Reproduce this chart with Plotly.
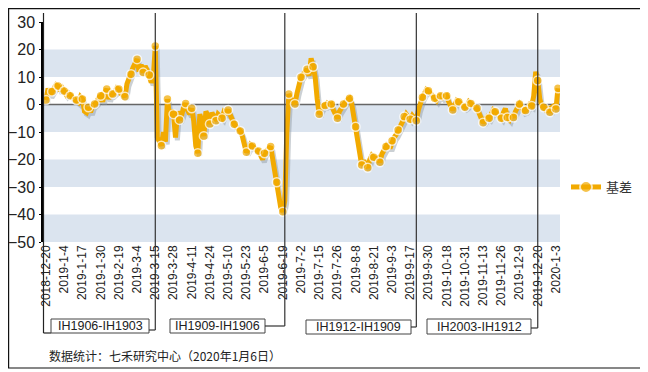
import plotly.graph_objects as go

# ---------------- data ----------------
tick_labels = ["2018-12-20", "2019-1-4", "2019-1-17", "2019-1-30", "2019-2-19", "2019-3-4",
               "2019-3-15", "2019-3-28", "2019-4-11", "2019-4-24", "2019-5-10", "2019-5-23",
               "2019-6-5", "2019-6-19", "2019-7-2", "2019-7-15", "2019-7-26", "2019-8-8",
               "2019-8-21", "2019-9-3", "2019-9-17", "2019-9-30", "2019-10-18", "2019-10-31",
               "2019-11-13", "2019-11-26", "2019-12-9", "2019-12-20", "2020-1-3"]

basis = [
    1.6, 5.8, 3.5, 4.7, 5.5, 7.2, 6.7, 5.0, 6.0, 4.9, 3.5, 4.2,
    3.2, 2.5, 2.0, 1.6, 0.8, 2.8, 2.0, -2.5, -3.0, -1.0, -2.8, -0.5,
    0.2, 0.8, 2.5, 3.2, 1.0, 4.5, 5.6, 2.0, 4.5, 3.8, 4.5, 6.0,
    5.6, 4.0, 3.5, 2.8, 7.5, 10.0, 11.0, 13.5, 15.0, 16.5, 12.0, 14.5,
    11.6, 14.0, 12.5, 10.7, 8.0, 9.5, 21.3, -12.0, -14.0, -15.0, -10.0, -13.5,
    2.0, -4.0, -2.0, -3.5, -12.0, -2.5, -5.6, -4.0, -1.0, 0.4, -2.0, -3.5,
    -1.4, -6.0, -15.0, -17.7, -3.5, -6.0, -11.5, -2.5, -4.0, -7.1, -3.0, -4.5,
    -5.9, -3.5, -4.2, -5.0, -2.5, -3.0, -2.0, -4.0, -6.0, -7.2, -8.0, -9.0,
    -9.6, -11.5, -14.0, -17.4, -16.0, -14.5, -15.1, -16.0, -16.5, -16.9, -18.5, -20.0,
    -17.7, -16.5, -16.0, -15.3, -20.0, -25.0, -28.3, -33.0, -37.5, -39.0, -35.0, -10.0,
    3.8, 2.0, 1.0, 0.2, 4.0, 8.0, 9.9, 11.0, 12.0, 12.8, 10.5, 16.8,
    13.7, 10.0, 2.0, -3.5, -1.5, -0.5, -0.4, 0.5, 0.0, 0.2, -2.0, -3.5,
    -5.0, -2.5, -1.0, 0.2, 1.0, 1.8, 2.3, 0.5, -4.0, -8.1, -14.0, -19.0,
    -22.0, -20.5, -21.5, -23.0, -20.0, -18.5, -19.2, -20.0, -19.5, -21.0, -18.0, -16.5,
    -15.3, -14.0, -16.0, -13.2, -12.0, -11.0, -9.3, -7.5, -6.0, -4.4, -3.5, -4.5,
    -5.4, -4.0, -5.0, -5.9, -2.0, 1.0, 2.6, 4.0, 5.5, 5.0, 4.0, 3.0,
    2.3, 1.5, 3.0, 3.2, 2.5, 2.8, 3.2, 1.0, -0.5, -2.0, 0.0, 1.5,
    1.0, 0.5, -0.5, -1.0, -0.5, 1.0, 0.4, -0.5, -1.0, -1.4, -3.0, -5.5,
    -6.6, -5.5, -4.5, -5.0, -3.5, -2.0, -2.6, -3.5, -4.0, -5.0, -3.0, -1.5,
    -4.7, -5.5, -3.5, -4.7, -2.5, -1.0, 0.2, -1.0, -2.5, -2.2, -1.0, 0.0,
    -0.5, 3.0, 11.9, 8.7, 2.0, -0.5, -1.0, -2.0, -1.5, -2.8, -1.0, -0.5,
    -1.6, 5.9,
]

contract_labels = ["IH1906-IH1903", "IH1909-IH1906", "IH1912-IH1909", "IH2003-IH1912"]
roll_index = [0, 54, 118, 183, 243]   # contract roll points (divider lines)

series_name = "基差"
source_text = "数据统计：七禾研究中心（2020年1月6日）"

# ---------------- layout helpers ----------------
OFF = 8                      # page body margin
W, H = 648 - OFF, 372 - OFF
L, R, T, B = 44 - OFF, 560 - OFF, 22 - OFF, 242 - OFF   # plot area in figure pixels
XMIN, XMAX = -1, 254


def px(xp):
    """page x pixel (reference coords) -> paper"""
    return (xp - OFF - L) / (R - L)


def py(yp):
    """page y pixel (reference coords) -> paper"""
    return (B - (yp - OFF)) / (B - T)


def ix(i):
    return (i - XMIN) / (XMAX - XMIN)


ORANGE = "#F2AA00"
BAND = "#DBE4EF"

n = len(basis)
xs = list(range(n))
marker_sizes = [9 if (i % 3 == 0 or i == n - 1) else 0 for i in xs]
marker_lw = [1.5 if s else 0 for s in marker_sizes]

fig = go.Figure()

# shadow
fig.add_trace(go.Scatter(
    x=[x + 0.9 for x in xs], y=[v - 1.0 for v in basis], mode="lines",
    line=dict(color="rgba(140,150,160,0.45)", width=5), hoverinfo="skip", showlegend=False))

# main series
fig.add_trace(go.Scatter(
    x=xs, y=basis, mode="lines+markers", name=series_name,
    line=dict(color=ORANGE, width=5),
    marker=dict(color=ORANGE, size=marker_sizes, line=dict(color="white", width=marker_lw)),
))

shapes = []
# horizontal bands
for lo, hi in [(10, 20), (-10, 0), (-30, -20), (-50, -40)]:
    shapes.append(dict(type="rect", xref="paper", yref="y", x0=0, x1=1, y0=lo, y1=hi,
                       fillcolor=BAND, line=dict(width=0), layer="below"))
# zero line
shapes.append(dict(type="line", xref="paper", yref="y", x0=0, x1=1, y0=0, y1=0,
                   line=dict(color="#666666", width=1.5), layer="below"))

# contract boxes (reference pixel positions) and connectors
boxes = [(51, 149, 319, 333), (170, 265, 319, 333), (306, 411, 320, 334), (427, 531, 319, 334)]
conn_y = [330, 326, 327, 328]

# left bracket line at start
shapes.append(dict(type="line", xref="paper", yref="paper", x0=px(43.5), x1=px(43.5),
                   y0=py(13), y1=py(333), line=dict(color="#222222", width=1.2)))
shapes.append(dict(type="line", xref="paper", yref="paper", x0=px(43.5), x1=px(boxes[0][0]),
                   y0=py(333), y1=py(333), line=dict(color="#222222", width=1.2)))

for k, (bx0, bx1, by0, by1) in enumerate(boxes):
    shapes.append(dict(type="rect", xref="paper", yref="paper", x0=px(bx0), x1=px(bx1),
                       y0=py(by1), y1=py(by0), fillcolor="white",
                       line=dict(color="#444444", width=1)))
    xr = ix(roll_index[k + 1])
    shapes.append(dict(type="line", xref="paper", yref="paper", x0=xr, x1=xr,
                       y0=py(13), y1=py(conn_y[k]), line=dict(color="#333333", width=1.2)))
    shapes.append(dict(type="line", xref="paper", yref="paper", x0=xr, x1=px(bx1),
                       y0=py(conn_y[k]), y1=py(conn_y[k]), line=dict(color="#333333", width=1.2)))

# outer border (right/bottom match reference; left/top at figure edge)
shapes.append(dict(type="rect", xref="paper", yref="paper", x0=px(OFF + 0.6), x1=px(644),
                   y0=py(368), y1=py(OFF + 0.6), line=dict(color="#111111", width=1.2)))

annotations = []
for k, (bx0, bx1, by0, by1) in enumerate(boxes):
    annotations.append(dict(text=contract_labels[k], xref="paper", yref="paper",
                            x=px((bx0 + bx1) / 2), y=py((by0 + by1) / 2),
                            xanchor="center", yanchor="middle", showarrow=False,
                            font=dict(size=12.5, color="#222222")))
annotations.append(dict(text=source_text, xref="paper", yref="paper", x=px(47), y=py(355),
                        xanchor="left", yanchor="middle", showarrow=False,
                        font=dict(size=12, color="#222222",
                                  family="Noto Sans CJK SC, Liberation Sans, sans-serif")))

fig.update_layout(
    width=W, height=H,
    margin=dict(l=L, r=W - R, t=T, b=H - B, autoexpand=False),
    paper_bgcolor="white", plot_bgcolor="white",
    font=dict(family="Liberation Sans, Arial, sans-serif", color="#222222"),
    showlegend=True,
    legend=dict(x=px(566), y=py(187), xanchor="left", yanchor="middle",
                itemsizing="constant", bgcolor="rgba(0,0,0,0)",
                font=dict(size=13, color="#333333",
                          family="Noto Sans CJK SC, Liberation Sans, sans-serif")),
    shapes=shapes, annotations=annotations,
    xaxis=dict(range=[XMIN, XMAX], tickmode="array",
               tickvals=[i * 9 for i in range(len(tick_labels))], ticktext=tick_labels,
               tickangle=-90, tickfont=dict(size=12, color="#222222"),
               showgrid=False, zeroline=False, showline=False, ticks=""),
    yaxis=dict(range=[-50, 30], tickvals=[30, 20, 10, 0, -10, -20, -30, -40, -50],
               tickfont=dict(size=16, color="#222222"), showgrid=False, zeroline=False,
               showline=True, linecolor="black", linewidth=2.5, ticks="outside",
               ticklen=2, tickcolor="black", ticklabelstandoff=1),
)

fig.write_html("out.html")
